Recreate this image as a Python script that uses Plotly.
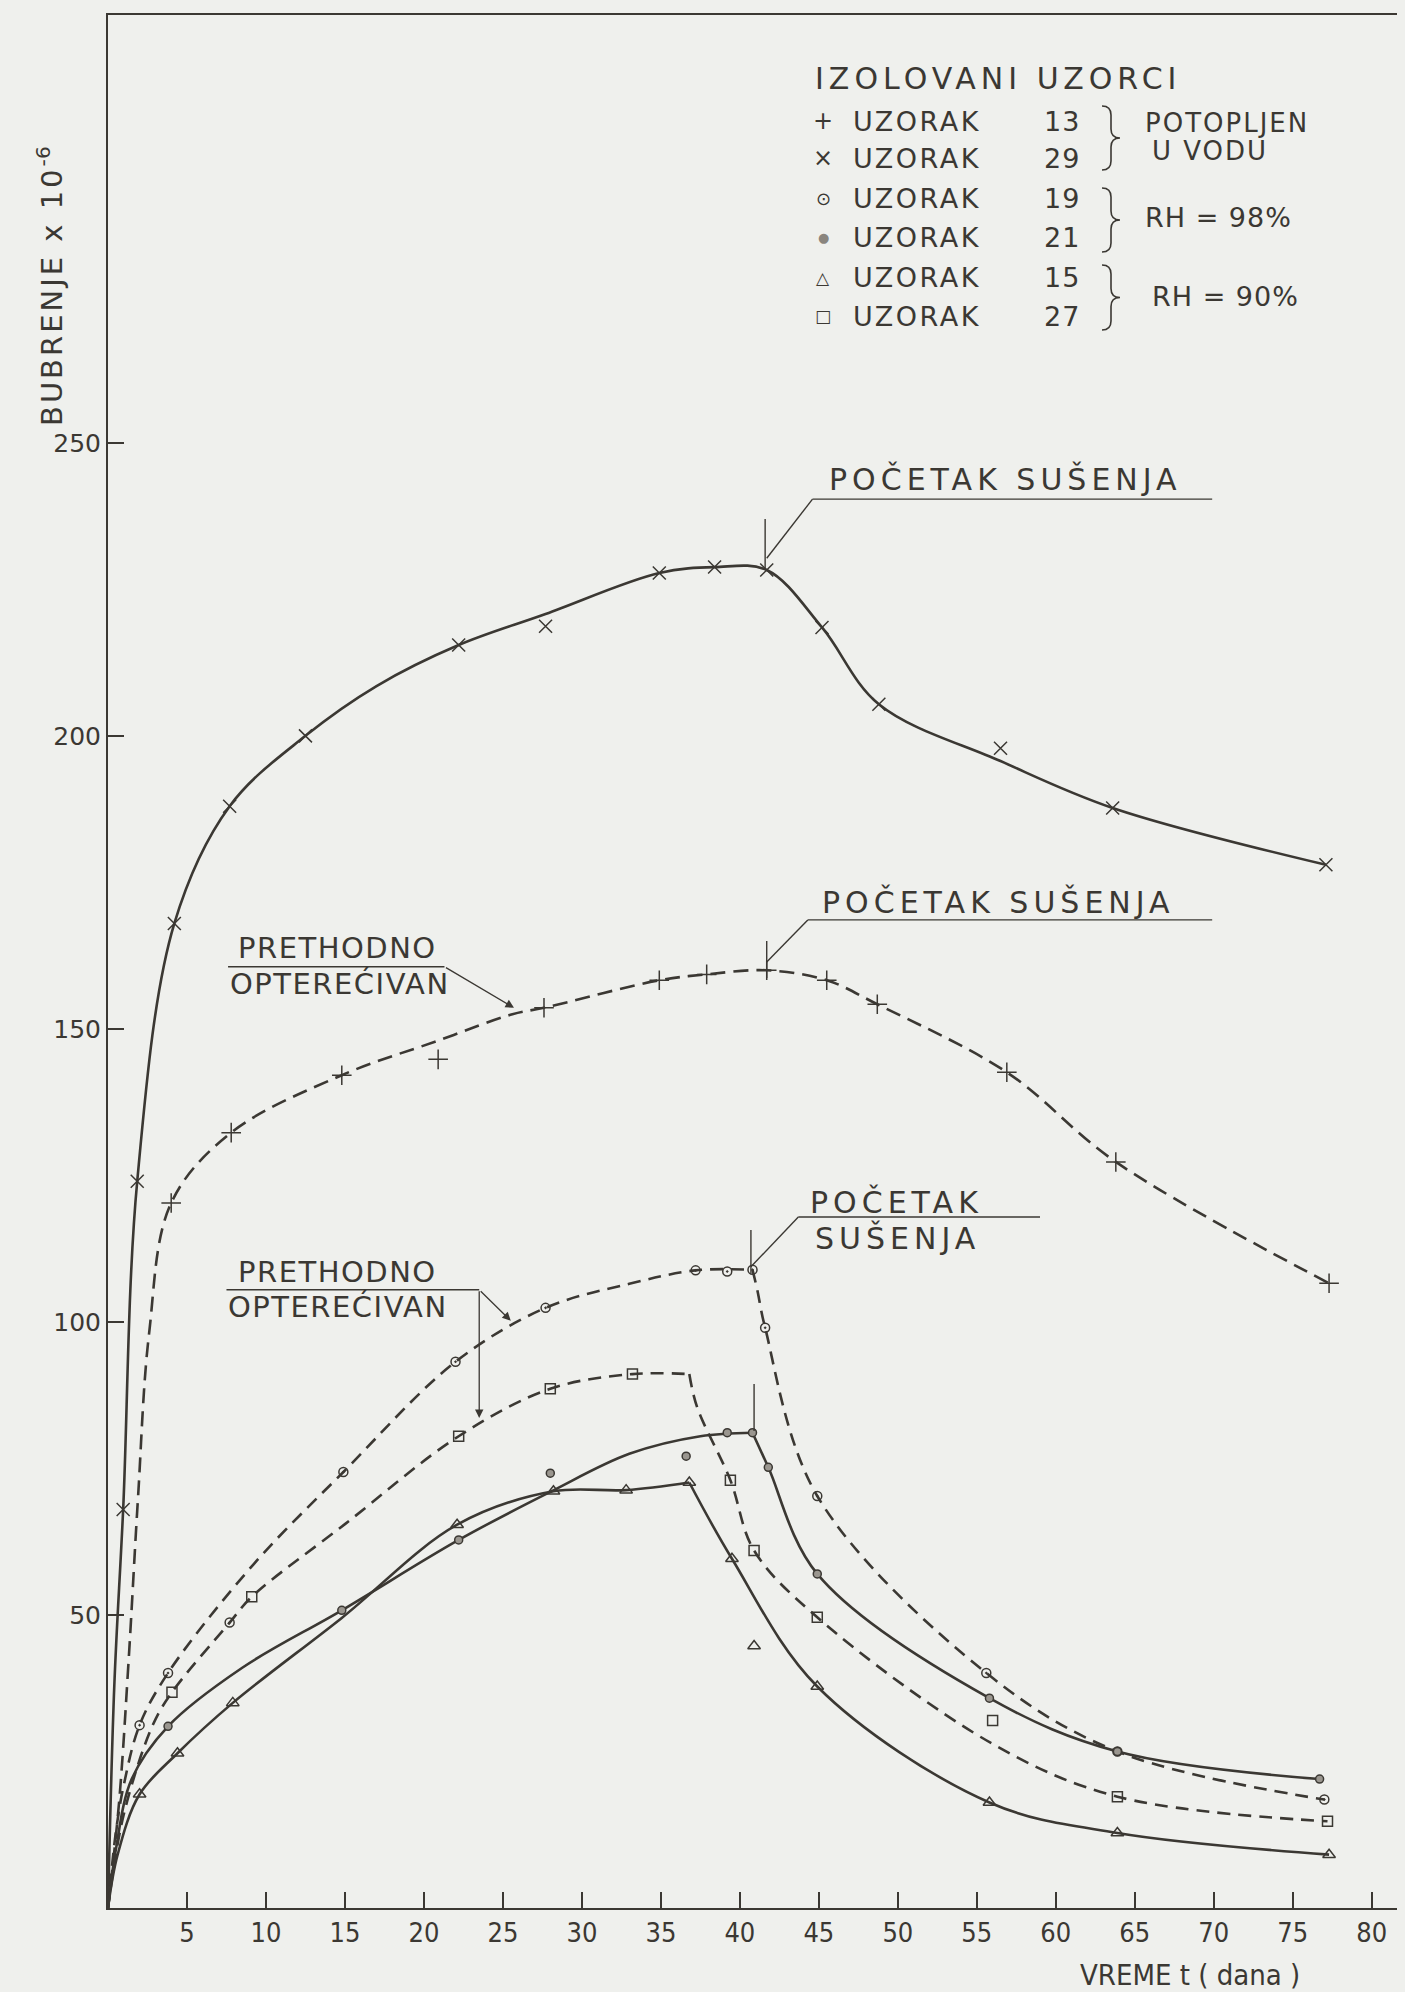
import plotly.graph_objects as go

INK = "#3b3833"
BG = "#eff0ed"
FONT = "DejaVu Sans, Liberation Sans, sans-serif"
NARROW = "DejaVu Sans Condensed, Liberation Sans Narrow, Roboto Condensed, DejaVu Sans, sans-serif"

# ---------------- data (time in days, swelling x10^-6) ----------------
# Sample 29 (x, solid, submerged in water)
T29 = [0.96, 1.85, 4.2, 7.7, 12.5, 22.2, 27.7, 34.9, 38.4, 41.7, 45.2, 48.8, 56.5, 63.6, 77.1]
S29 = [68, 124, 168, 188, 200, 215.5, 218.7, 227.8, 228.8, 228.3, 218.5, 205.4, 197.9, 187.7, 178.0]
C29_T = [0, 0.4, 0.96, 1.85, 4.2, 7.7, 12.5, 17.0, 22.2, 27.7, 34.9, 38.4, 41.7, 45.2, 48.8, 56.5, 63.6, 77.1]
C29_Y = [0, 38, 68, 124, 168, 188, 200, 208.5, 215.5, 220.8, 227.8, 228.8, 228.3, 218.5, 205.4, 195.7, 187.7, 178.0]

# Sample 13 (+, dashed, submerged, previously loaded)
T13 = [4.0, 7.8, 14.8, 20.9, 27.6, 34.9, 37.9, 41.7, 45.5, 48.7, 56.9, 63.8, 77.3]
S13 = [120.3, 132.3, 142.1, 144.8, 153.6, 158.3, 159.3, 160.0, 158.3, 154.2, 142.6, 127.3, 106.6]
C13_T = [0, 0.7, 1.3, 1.9, 2.6, 4.0, 7.8, 14.8, 20.9, 25.6, 27.6, 34.9, 37.9, 41.7, 45.5, 48.7, 56.9, 63.8, 77.3]
C13_Y = [0, 18, 42, 70, 98, 120.3, 132.3, 142.1, 148, 152.5, 153.6, 158.3, 159.3, 160.0, 158.3, 154.2, 142.6, 127.3, 106.6]

# Sample 19 (circle, dashed, RH=98%, previously loaded)
T19 = [2.0, 3.8, 7.7, 14.9, 22.0, 27.7, 37.2, 39.2, 40.8, 41.6, 44.9, 55.6, 63.9, 77.0]
S19 = [31.2, 40.1, 48.7, 74.4, 93.2, 102.4, 108.8, 108.6, 108.9, 99.0, 70.3, 40.1, 26.7, 18.5]
C19_RISE_T = [0, 0.5, 1.0, 2.0, 3.8, 9.2, 14.9, 22.0, 27.7, 33.0, 37.2, 40.8]
C19_RISE_Y = [0, 13, 21, 31.2, 40.1, 58.6, 74.4, 93.2, 102.4, 106.5, 108.8, 108.9]
C19_DRY_T = [40.8, 41.1, 41.6, 44.9, 55.6, 63.9, 77.0]
C19_DRY_Y = [108.9, 105.5, 99.0, 70.3, 40.1, 26.7, 18.5]

# Sample 21 (circle, solid, RH=98%)
T21 = [3.8, 14.8, 22.2, 28.0, 36.6, 39.2, 40.8, 41.8, 44.9, 55.8, 63.9, 76.7]
S21 = [31.0, 50.8, 62.8, 74.2, 77.1, 81.1, 81.1, 75.2, 57.0, 35.8, 26.7, 22.0]
C21_RISE_T = [0, 0.5, 1.5, 3.8, 8.5, 14.8, 22.2, 28.0, 33.0, 37.5, 40.8]
C21_RISE_Y = [0, 10, 22, 31.0, 41, 50.8, 62.8, 71, 77.5, 80.5, 81.1]
C21_DRY_T = [40.8, 41.8, 44.9, 55.8, 63.9, 76.7]
C21_DRY_Y = [81.1, 75.2, 57.0, 35.8, 26.7, 22.0]

# Sample 15 (triangle, solid, RH=90%)
T15 = [2.0, 4.4, 7.9, 22.1, 28.2, 32.8, 36.8, 39.5, 40.9, 44.9, 55.8, 63.9, 77.3]
S15 = [19.4, 26.4, 35.0, 65.4, 71.1, 71.3, 72.6, 59.6, 44.7, 37.8, 18.0, 12.8, 9.1]
C15_RISE_T = [0, 0.6, 2.0, 4.4, 7.9, 14.8, 22.1, 28.2, 32.8, 36.8]
C15_RISE_Y = [0, 9, 19.4, 26.4, 35.0, 49.5, 65.4, 71.1, 71.3, 72.6]
C15_DRY_T = [36.8, 39.5, 44.9, 55.8, 63.9, 77.3]
C15_DRY_Y = [72.6, 59.6, 37.8, 18.0, 12.8, 9.1]

# Sample 27 (square, dashed, RH=90%, previously loaded)
T27 = [4.05, 9.1, 22.2, 28.0, 33.2, 39.4, 40.9, 44.9, 56.0, 63.9, 77.2]
S27 = [36.8, 53.1, 80.5, 88.6, 91.1, 73.0, 61.0, 49.6, 32.0, 19.0, 14.8]
C27_RISE_T = [0, 1.0, 2.85, 4.05, 7.7, 9.1, 15.0, 22.2, 28.0, 33.2, 36.8]
C27_RISE_Y = [0, 16, 31.3, 36.8, 48.7, 53.1, 65.5, 80.5, 88.6, 91.1, 91.1]
C27_DRY_T = [36.8, 37.3, 39.4, 40.9, 44.9, 56.0, 63.9, 77.2]
C27_DRY_Y = [91.1, 85.4, 73.0, 61.0, 49.6, 28.0, 19.0, 14.8]

X_TICKS = [5, 10, 15, 20, 25, 30, 35, 40, 45, 50, 55, 60, 65, 70, 75, 80]
Y_TICKS = [50, 100, 150, 200, 250]

# ---------------- figure ----------------
W, H = 1405, 1992
ML, MR, MT, MB = 108, 8, 15, 84
PW, PH = W - ML - MR, H - MT - MB

fig = go.Figure()

SOLID = "solid"
DASH = "15px,8px"
DASH2 = "13px,8px"


def curve(t, y, dash, width=2.6):
    fig.add_trace(go.Scatter(x=t, y=y, mode="lines", hoverinfo="skip", showlegend=False,
                             line=dict(color=INK, width=width, dash=dash, shape="spline", smoothing=1.0)))


def marks(t, y, name, symbol, size, color=INK, lw=1.5):
    fig.add_trace(go.Scatter(x=t, y=y, mode="markers", name=name, showlegend=False,
                             marker=dict(symbol=symbol, size=size, color=color,
                                         line=dict(color=INK, width=lw))))


curve(C29_T, C29_Y, SOLID)
curve(C13_T, C13_Y, DASH)
curve(C19_RISE_T, C19_RISE_Y, DASH2)
curve(C19_DRY_T, C19_DRY_Y, DASH2)
curve(C21_RISE_T, C21_RISE_Y, SOLID)
curve(C21_DRY_T, C21_DRY_Y, SOLID)
curve(C15_RISE_T, C15_RISE_Y, SOLID)
curve(C15_DRY_T, C15_DRY_Y, SOLID)
curve(C27_RISE_T, C27_RISE_Y, DASH2)
curve(C27_DRY_T, C27_DRY_Y, DASH2)

marks(T29, S29, "UZORAK 29", "x-thin-open", 13)
marks(T13, S13, "UZORAK 13", "cross-thin-open", 14)
marks(T19, S19, "UZORAK 19", "circle-open-dot", 9)
marks(T21, S21, "UZORAK 21", "circle", 8, color="#9a968f")
marks(T15, S15, "UZORAK 15", "triangle-up-open", 11)
marks(T27, S27, "UZORAK 27", "square-open", 10)


def sp(s, ls):
    return f'<span style="letter-spacing:{ls}px">{s}</span>'


ann = []
shapes = []


def text_data(x, y, s, size=30, ls=5, anchor="left"):
    ann.append(dict(x=x, y=y, xref="x", yref="y", text=sp(s, ls), showarrow=False,
                    xanchor=anchor, yanchor="middle", font=dict(family=FONT, size=size, color=INK)))


def seg(x0, y0, x1, y1, w=1.4):
    shapes.append(dict(type="line", xref="x", yref="y", x0=x0, y0=y0, x1=x1, y1=y1,
                       line=dict(color=INK, width=w)))


def arrow(x0, y0, x1, y1):
    ann.append(dict(x=x1, y=y1, ax=x0, ay=y0, xref="x", yref="y", axref="x", ayref="y",
                    text="", showarrow=True, arrowhead=2, arrowsize=1.3, arrowwidth=1.3,
                    arrowcolor=INK))


# "POČETAK SUŠENJA" (top curve)
text_data(45.5, 243.8, "POČETAK SUŠENJA")
seg(44.6, 240.4, 69.9, 240.4)
seg(44.6, 240.4, 41.7, 230.3)
seg(41.6, 237.0, 41.6, 228.3)

# "POČETAK SUŠENJA" (middle curve)
text_data(45.1, 171.6, "POČETAK SUŠENJA")
seg(44.3, 168.6, 69.9, 168.6)
seg(44.3, 168.6, 41.7, 161.4)
seg(41.7, 165.0, 41.7, 158.7)

# "POČETAK / SUŠENJA" (lower group)
text_data(44.3, 120.5, "POČETAK")
text_data(44.6, 114.4, "SUŠENJA")
seg(43.7, 117.9, 59.0, 117.9)
seg(43.7, 117.9, 40.7, 109.4)
seg(40.7, 115.7, 40.7, 108.3)
seg(40.9, 89.4, 40.9, 81.4)

# "PRETHODNO OPTEREĆIVAN" (upper)
text_data(8.1, 163.8, "PRETHODNO", size=29, ls=1.5)
text_data(7.6, 157.6, "OPTEREĆIVAN", size=29, ls=1.5)
seg(7.6, 160.6, 21.3, 160.6)
arrow(21.3, 160.6, 25.7, 153.6)

# "PRETHODNO OPTEREĆIVAN" (lower)
text_data(8.1, 108.6, "PRETHODNO", size=29, ls=1.5)
text_data(7.5, 102.5, "OPTEREĆIVAN", size=29, ls=1.5)
seg(7.5, 105.5, 23.5, 105.5)
arrow(23.5, 105.5, 25.5, 100.2)
arrow(23.5, 105.5, 23.5, 83.6)


# ---------- legend block (paper coordinates from page pixels) ----------
def px(xp):
    return (xp - ML) / PW


def py(yp):
    return (H - MB - yp) / PH


def text_paper(xp, yp, s, size=28, ls=2, anchor="left", family=FONT, color=INK):
    ann.append(dict(x=px(xp), y=py(yp), xref="paper", yref="paper", text=s if ls is None else sp(s, ls),
                    showarrow=False, xanchor=anchor, yanchor="middle",
                    font=dict(family=family, size=size, color=color)))


text_paper(813, 78, "IZOLOVANI UZORCI", size=30, ls=5)
rows = [("+", "13", 121, 24), ("×", "29", 158, 24), ("⊙", "19", 199, 18),
        ("●", "21", 238, 13), ("△", "15", 278, 17), ("□", "27", 316, 17)]
for sym, num, yp, ssz in rows:
    text_paper(823, yp, sym, size=ssz, ls=None, anchor="center",
               color="#8a857e" if sym == "●" else INK)
    text_paper(851, yp, "UZORAK", size=27, ls=2.5)
    text_paper(1082, yp, num, size=27, ls=1, anchor="right")

text_paper(1143, 123, "POTOPLJEN", size=26, ls=2)
text_paper(1150, 151, "U VODU", size=26, ls=2)
text_paper(1143, 218, "RH = 98%", size=27, ls=1)
text_paper(1150, 297, "RH = 90%", size=27, ls=1)


def brace(xl, xt, yt, yb, r=9):
    xm = (xl + xt) / 2
    ym = (yt + yb) / 2
    pts = [
        f"M {px(xl)},{py(yt)}",
        f"Q {px(xm)},{py(yt)} {px(xm)},{py(yt + r)}",
        f"L {px(xm)},{py(ym - r)}",
        f"Q {px(xm)},{py(ym)} {px(xt)},{py(ym)}",
        f"Q {px(xm)},{py(ym)} {px(xm)},{py(ym + r)}",
        f"L {px(xm)},{py(yb - r)}",
        f"Q {px(xm)},{py(yb)} {px(xl)},{py(yb)}",
    ]
    shapes.append(dict(type="path", xref="paper", yref="paper", path=" ".join(pts),
                       line=dict(color=INK, width=1.6)))


brace(1102, 1120, 106, 170)
brace(1102, 1120, 188, 252)
brace(1102, 1120, 265, 330)

# axis titles
ann.append(dict(x=px(50), y=py(286), xref="paper", yref="paper", textangle=-90,
                text=sp("BUBRENJE x 10", 3) + "<sup>-6</sup>", showarrow=False,
                xanchor="center", yanchor="middle", font=dict(family=FONT, size=29, color=INK)))
ann.append(dict(x=px(1190), y=py(1975), xref="paper", yref="paper",
                text="VREME t ( dana )", showarrow=False, xanchor="center", yanchor="middle",
                font=dict(family=NARROW, size=29, color=INK)))

fig.update_layout(
    width=W, height=H, autosize=False,
    margin=dict(l=ML, r=MR, t=MT, b=MB),
    paper_bgcolor=BG, plot_bgcolor=BG,
    showlegend=False,
    annotations=ann, shapes=shapes,
    xaxis=dict(range=[0, 81.6], tickvals=X_TICKS, ticks="inside", ticklen=16, tickwidth=1.6,
               tickcolor=INK, showline=True, linecolor=INK, linewidth=2, mirror=True,
               showgrid=False, zeroline=False,
               tickfont=dict(family=NARROW, size=27, color=INK)),
    yaxis=dict(range=[0, 323], tickvals=Y_TICKS, ticks="inside", ticklen=16, tickwidth=1.6,
               tickcolor=INK, showline=True, linecolor=INK, linewidth=2, mirror=False,
               showgrid=False, zeroline=False,
               tickfont=dict(family=FONT, size=25, color=INK)),
)

fig.write_html(
    "out.html",
    config={"displayModeBar": False},
    post_script="document.body.style.margin='0';document.body.style.padding='0';"
                "document.body.style.background='" + BG + "';"
                "document.body.style.overflow='hidden';",
)
